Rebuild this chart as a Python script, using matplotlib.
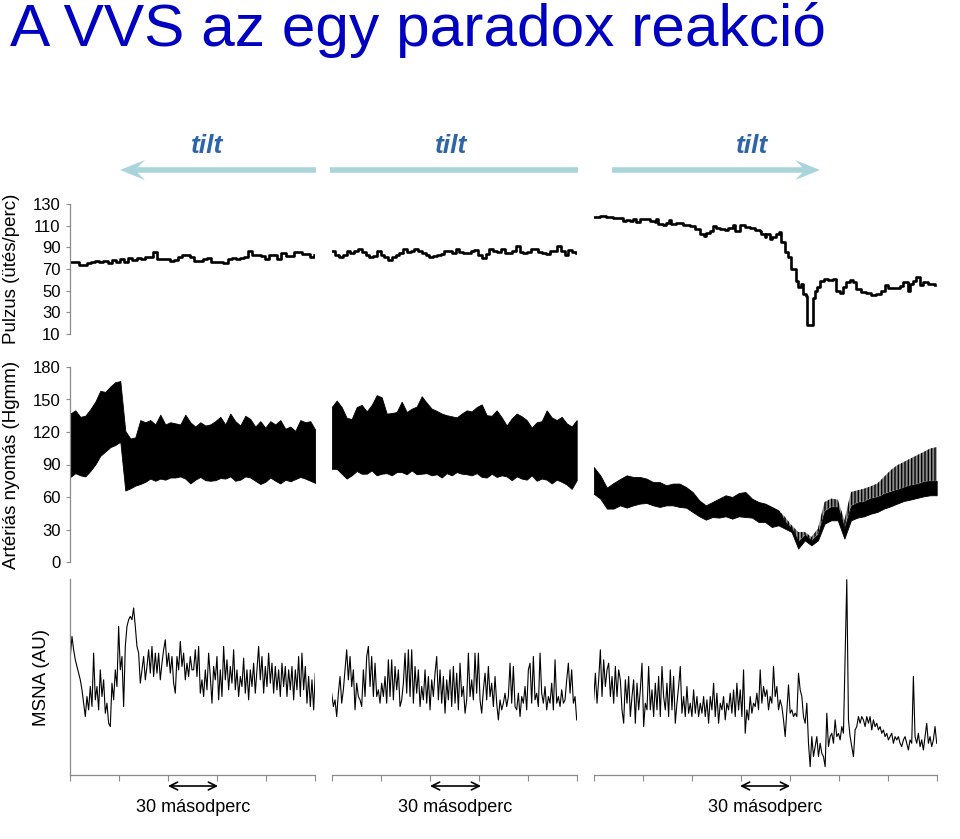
import numpy as np
import matplotlib.pyplot as plt
from matplotlib.patches import FancyArrow

plt.rcParams['font.family'] = ['Liberation Sans', 'DejaVu Sans']
plt.rcParams['hatch.linewidth'] = 1.0

# ---- data ----
durations = [150, 150, 210]          # seconds shown in each panel column

pulse1 = [76.1, 76.7, 74, 73.7, 75.2, 76.7, 77.7, 76.1, 77.7, 75.5,
          78.3, 76.7, 78.9, 76.1, 80.2, 78.6, 79.8, 78.9, 81.4, 81.4,
          85.7, 78.9, 79.2, 78.9, 77, 78.6, 80.7, 83.2, 83.2, 81.4,
          77.7, 77.7, 78.9, 79.8, 76.7, 76.5, 76.5, 75.2, 78.9, 80.2,
          78.9, 79.8, 81.4, 86.9, 83, 83.2, 82, 79.5, 83.2, 82.6,
          79.5, 84.4, 81.7, 82, 86, 85.7, 83.9, 84.2, 81.1, 82.6]
pulse2 = [86.3, 83.2, 81.4, 83.2, 86.3, 84.4, 86.9, 88.8, 85.4, 83.2,
          80.7, 82, 86.9, 83.2, 80.7, 78.6, 80.7, 82.6, 84.4, 88.1,
          85.4, 86.3, 88.8, 86.3, 84.4, 83.2, 80.7, 82, 82.6, 83.9,
          86.3, 86.9, 85.1, 88.5, 85.7, 84.8, 85.1, 86.9, 87.9, 83.2,
          80.2, 83.9, 88.8, 86.9, 85.7, 88.8, 85.1, 84.4, 86.9, 91.3,
          85.7, 85.1, 85.7, 88.8, 88.5, 85.7, 85.1, 83.9, 86.3, 86.9,
          91.3, 86.3, 83.2, 87.6, 85.7, 85.1]
pulse3_t = [0, 3.7, 7.8, 11.8, 14.9, 17.9, 20, 22, 24.1, 26.1, 28.2, 31.2, 34.3,
            37.3, 38.4, 39.4, 42.4, 44.5, 46.1, 47.6, 50.6, 54.7, 58.8, 61.8,
            64.9, 67.3, 69, 71, 73, 75.1, 77.1, 80.2, 82.2, 85.3, 86.3, 89.4,
            92.4, 95.5, 98.5, 101.6, 102.6, 104.7, 105.7, 107.7, 109.4, 111.8,
            113.4, 114.9, 116.9, 118.9, 121, 123.6, 125, 127.1, 128.1, 130.2,
            130.5, 134.5, 135.5, 136.7, 138.7, 140.8, 143.4, 146.5, 148.5,
            150.6, 152.6, 154.7, 156.7, 158.7, 160.8, 163.8, 166.9, 170, 173,
            176.1, 178.1, 180.1, 184.2, 187.3, 189.3, 192.4, 193.4, 195.4,
            197.5, 199.5, 201.5, 204.6, 208.7]
pulse3 = [118.4, 118.7, 117.8, 117.2, 116.9, 114.1, 115.4, 114.7, 115.9, 113.1,
          115.9, 116.6, 114.7, 113.5, 116.6, 111.7, 110.4, 112.9, 115.4, 111.7,
          112.2, 111, 109.8, 107, 102.4, 100.6, 103, 105.5, 110.1, 108,
          106.7, 106.1, 108, 111, 105.5, 110.4, 109.2, 108, 106.1, 105.5,
          102.4, 99.9, 102.4, 97.8, 99.3, 102.4, 103.9, 94.6, 85.4, 80.7,
          70, 59.2, 53, 56.1, 46.9, 45.3, 18.4, 43.1, 49.9, 53,
          59.2, 61, 59.8, 60.4, 49.9, 47.4, 53, 58, 59.8, 58,
          51.5, 48.7, 47.4, 46.2, 46.8, 49.9, 55.2, 52.4, 52.4, 54.3,
          58, 49.3, 56.1, 59.2, 62.2, 55.5, 58, 56.1, 54.9]

bp1_sys = [137, 140, 134, 135, 141, 148, 158, 157, 162, 166,
           167, 121, 114, 115, 131, 129, 131, 127, 136, 127,
           129, 128, 127, 136, 129, 125, 129, 126, 127, 130,
           134, 127, 137, 130, 126, 135, 132, 125, 130, 124,
           130, 127, 131, 123, 125, 121, 131, 129, 130, 122]
bp1_dia = [78.5, 82, 80, 79, 84, 90, 98, 102, 106, 108,
           111, 66, 68, 70.5, 72, 74, 77, 75, 77, 76,
           78, 78, 79, 77, 72.5, 76, 78.5, 75.5, 75, 75.5,
           77.5, 77, 79, 75, 76, 79, 78, 75, 72, 74,
           78, 75, 72.5, 76, 74.5, 76.5, 78.5, 77, 75, 73]
bp2_sys = [143, 149, 143, 133, 132, 143, 145, 139, 145, 154,
           152, 137, 137.5, 138.5, 148, 138.5, 141.5, 143.5, 153, 147,
           141.5, 139.5, 137, 135.5, 134.5, 133.5, 137, 140, 139, 143,
           145.5, 135.5, 135, 140, 133.5, 126, 132.5, 137, 134.5, 131,
           124, 129, 130, 140, 133.5, 131, 134, 128, 125, 131]
bp2_dia = [86, 86, 81.5, 77, 80, 84, 81.5, 81.5, 84.5, 80,
           81.5, 82, 80, 83, 83, 81, 84.5, 81, 81.5, 82,
           80, 81, 78, 82, 80, 83, 81.5, 81, 80, 82,
           78.5, 78, 81.5, 78.5, 80, 79, 75.5, 79, 77, 76,
           80, 75, 77, 76, 72.5, 76, 74, 71.5, 67.5, 75.5]
bp3_sys = [87.7, 80, 68.6, 72.9, 76.6, 80, 78.5, 78.5, 77, 73.8,
           73.8, 70.8, 72.4, 72.4, 69.2, 64.6, 56.9, 52.3, 55.4, 58.5,
           61.6, 60, 63.7, 64.6, 58.5, 55.4, 53.9, 50.8, 47.7, 41.5,
           33.9, 27.7, 27.7, 23.1, 30.8, 55.4, 58.5, 57.6, 38.5, 64.6,
           66.2, 67.7, 69.9, 72.4, 78.5, 84.6, 89.3, 92.3, 95.4, 98.5,
           101.5, 104.7, 106.1]
bp3_band = [87.7, 80, 68.6, 72.9, 76.6, 80, 78.5, 78.5, 77, 73.8,
            73.8, 70.8, 72.4, 72.4, 69.2, 64.6, 56.9, 52.3, 55.4, 58.5,
            61.6, 60, 63.7, 64.6, 58.5, 55.4, 53.9, 50.8, 47.7, 37,
            31, 19, 25, 20, 26, 47, 51, 51, 31, 52,
            55, 56, 59, 60, 63, 65, 67, 69, 71, 72,
            74, 75, 75]
bp3_dia = [63.1, 58.5, 49.3, 49.3, 52.3, 50.2, 52.3, 53.9, 54.5, 52.3,
           50.8, 52.3, 52.3, 50.8, 50.2, 46.2, 42.2, 39.1, 41.5, 41,
           42.2, 40, 42.2, 41.5, 41, 36.9, 36.9, 32.3, 33.9, 30.8,
           27.7, 12.4, 20, 15.4, 20, 35.4, 38.5, 38.5, 21.6, 38.5,
           41, 42.2, 44.6, 46.2, 49.3, 51.4, 53.9, 56.3, 57.6, 59.1,
           60.6, 61.6, 61.6]

msna1 = [34, 40, 36, 33, 31, 29, 27, 24, 20, 16, 22, 18, 25, 19, 35, 21, 25, 18, 30, 22,
         27, 17, 20, 14, 13, 26, 21, 30, 25, 43, 30, 34, 19, 37, 43, 45, 46, 45, 48.5, 43,
         37, 35, 26, 30, 34, 27, 31, 36, 29, 37, 28, 35, 29, 35, 27, 32, 36, 39, 31, 35,
         29, 34, 26, 23, 34, 30, 38.5, 31, 35, 27, 32, 28, 34, 30, 30, 36, 28, 37, 23, 27,
         22, 30, 24, 35, 28, 20, 31, 27, 34, 21, 30, 22, 37, 27, 33, 24, 31, 26, 36, 24,
         30, 22, 28, 25, 33.5, 23, 30, 21, 30, 25, 32, 23, 30, 37, 27, 34, 23, 31, 25, 35,
         26, 32, 23, 31, 24, 30, 22, 32, 25, 31, 22, 30, 24, 31, 21, 30, 24, 34, 22, 35,
         24, 31, 20, 28, 19, 27, 18, 29]
msna2 = [23, 19, 21, 16, 23, 28, 20, 24, 30, 36, 27, 34, 25, 30, 18, 26, 22, 21, 19, 30,
         22, 34, 37, 25, 34, 22, 32, 22, 24, 20, 26, 22, 28, 20, 33, 22, 33, 21, 31, 24,
         30, 19, 21, 26, 35, 23, 36, 22, 36, 20, 31, 23, 30, 19, 25, 21, 30, 20, 28, 18,
         27, 22, 29, 34, 21, 30, 20, 28, 17, 27, 21, 30, 19, 31, 20, 29, 18, 32, 22, 25,
         17, 21, 35, 22, 27, 21, 35, 23, 35, 21, 17, 24, 29, 21, 31, 22, 26, 19, 28, 20,
         15, 21, 18, 20, 23, 19, 22, 32, 20, 31, 19, 18, 23, 16, 22, 20, 25, 18, 30, 32,
         20, 34, 21, 23, 19, 35, 23, 20, 25, 18, 22, 20, 26, 18, 33, 20, 22, 19, 24, 20,
         21, 27, 32, 23, 30, 20, 22, 15]
msna3 = [21, 29, 20, 27, 36, 22, 33, 25, 30, 32, 22, 28, 20, 31, 22, 30, 27, 18, 14, 27,
         20, 28, 16, 22, 27, 14, 26, 18, 24, 32, 13, 20, 18, 31, 18, 24, 16, 26, 18, 28,
         16, 31, 22, 18, 26, 16, 30, 18, 28, 14, 20, 25, 31, 17, 22, 16, 25, 17, 20, 16,
         24, 17, 22, 16, 20, 17, 22, 16, 21, 14, 22, 18, 26, 16, 23, 14, 20, 18, 22, 15,
         20, 18, 23, 17, 24, 16, 26, 18, 24, 16, 30, 11, 18, 15, 22, 17, 20, 19, 23, 18,
         30, 20, 25, 22, 24, 18, 22, 20, 31, 22, 25, 18, 21, 19, 15, 10, 18, 25.5, 17, 18,
         16, 17, 16, 29, 24, 22, 16, 14, 20, 8, 1, 10, 4, 7, 10, 4, 8, 5, 4, 1,
         17, 7, 10, 11, 8, 15, 10, 11, 9, 13, 11, 34, 57, 15, 10, 7, 4, 12, 13, 16,
         14, 16, 15, 13, 16, 14, 16, 12, 15, 13, 14, 12, 13, 11, 12, 10, 11, 9, 10, 11,
         8, 10, 9, 10, 8, 7, 9, 10, 8, 6, 9, 8, 28, 10, 8, 11, 7, 9, 6, 10,
         14, 8, 10, 7, 9, 13, 8]

pulse_ticks = [10, 30, 50, 70, 90, 110, 130]
bp_ticks = [0, 30, 60, 90, 120, 150, 180]
title = 'A VVS az egy paradox reakció'
ylabels = ['Pulzus (ütés/perc)', 'Artériás nyomás (Hgmm)', 'MSNA (AU)']

# ---- layout (pixel boxes) ----
W, H = 960, 839
fig = plt.figure(figsize=(W / 100, H / 100), dpi=100)
grey = '#8a8a8a'


def rect(x0, y0, x1, y1):
    return [x0 / W, 1 - y1 / H, (x1 - x0) / W, (y1 - y0) / H]


def bare(ax):
    for s in ax.spines.values():
        s.set_visible(False)
    ax.set_xticks([])
    ax.set_yticks([])
    ax.patch.set_alpha(0)


def left_axis(ax, ticks):
    ax.spines['left'].set_visible(True)
    ax.spines['left'].set_color(grey)
    ax.spines['left'].set_linewidth(0.9)
    ax.set_yticks(ticks)
    ax.tick_params(axis='y', direction='out', length=3, width=0.8, color=grey,
                   pad=4, labelsize=12)


cols = [(70.3, 315.3), (331.7, 576.7), (593.7, 936.7)]
rows = [(204, 334), (367, 562), (579, 775)]

pulse_t = [np.linspace(0, 149.5, len(pulse1)), np.linspace(0, 149.5, len(pulse2)),
           np.array(pulse3_t)]
pulse_v = [pulse1, pulse2, pulse3]
bp_sys = [bp1_sys, bp2_sys, bp3_sys]
bp_dia = [bp1_dia, bp2_dia, bp3_dia]
msna = [msna1, msna2, msna3]

for c, (x0, x1) in enumerate(cols):
    dur = durations[c]

    # pulse
    ax = fig.add_axes(rect(x0, rows[0][0], x1, rows[0][1]))
    bare(ax)
    ax.set_xlim(0, dur)
    ax.set_ylim(10, 130)
    ax.plot(pulse_t[c], pulse_v[c], color='black', lw=1.9, drawstyle='steps-post')
    if c == 0:
        left_axis(ax, pulse_ticks)

    # arterial pressure
    ax = fig.add_axes(rect(x0, rows[1][0], x1, rows[1][1]))
    bare(ax)
    ax.set_xlim(0, dur)
    ax.set_ylim(0, 180)
    t = np.linspace(0, dur, len(bp_sys[c]))
    if c < 2:
        ax.fill_between(t, bp_dia[c], bp_sys[c], color='black', lw=0.6)
    else:
        ax.fill_between(t, bp3_band, bp3_sys, facecolor='0.55', edgecolor='black',
                        hatch='|||||', lw=0)
        ax.fill_between(t, bp3_dia, bp3_band, color='black', lw=0.6)
    if c == 0:
        left_axis(ax, bp_ticks)

    # MSNA
    ax = fig.add_axes(rect(x0, rows[2][0], x1, rows[2][1]))
    bare(ax)
    ax.set_xlim(0, dur)
    ax.set_ylim(-1.5, 57.2)
    t = np.linspace(0, dur, len(msna[c]))
    ax.plot(t, msna[c], color='black', lw=0.8)
    ax.spines['bottom'].set_visible(True)
    ax.spines['bottom'].set_color(grey)
    ax.spines['bottom'].set_linewidth(0.9)
    ax.set_xticks(range(0, dur + 1, 30))
    ax.set_xticklabels([])
    ax.tick_params(axis='x', direction='out', length=4, width=0.8, color=grey)
    if c == 0:
        ax.spines['left'].set_visible(True)
        ax.spines['left'].set_color(grey)
        ax.spines['left'].set_linewidth(0.9)

# ---- overlay in pixel units for title, labels and arrows ----
ov = fig.add_axes([0, 0, 1, 1])
ov.set_xlim(0, W)
ov.set_ylim(H, 0)
ov.axis('off')
ov.patch.set_alpha(0)

ov.text(10, 46, title, fontsize=43.5, color='#0000C0', ha='left', va='baseline')

ov.text(12, 269, ylabels[0], rotation=90, ha='center', va='center', fontsize=13.5)
ov.text(12, 465, ylabels[1], rotation=90, ha='center', va='center', fontsize=13.5)
ov.text(41, 677, ylabels[2], rotation=90, ha='center', va='center', fontsize=13.5)

arrow_c = '#A8D4DA'
tilt_c = '#2E64A8'
ov.add_patch(FancyArrow(316, 170, -196, 0, width=5.5, head_width=20, head_length=25,
                        overhang=0.3, length_includes_head=True, color=arrow_c, lw=0))
ov.plot([330, 578], [170, 170], color=arrow_c, lw=4, solid_capstyle='butt')
ov.add_patch(FancyArrow(612, 170, 208, 0, width=5.5, head_width=20, head_length=25,
                        overhang=0.3, length_includes_head=True, color=arrow_c, lw=0))
for x in (207, 451, 752):
    ov.text(x, 146, 'tilt', ha='center', va='center', fontsize=19, fontweight='bold',
            fontstyle='italic', color=tilt_c)

for a, b in [(168, 218), (430, 481), (740, 790)]:
    ov.annotate('', xy=(a, 786), xytext=(b, 786),
                arrowprops=dict(arrowstyle='<->', lw=1.2, color='black',
                                shrinkA=0, shrinkB=0, mutation_scale=14))
    ov.text((a + b) / 2, 807, '30 másodperc', ha='center', va='center', fontsize=13)

fig.savefig('out.png', dpi=100)
